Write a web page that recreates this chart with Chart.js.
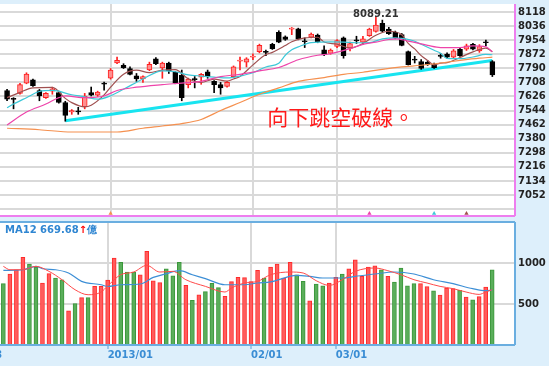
<!DOCTYPE html>
<html>
<head>
<meta charset="utf-8">
<script src="https://cdn.jsdelivr.net/npm/chart.js@4.4.0/dist/chart.umd.min.js"></script>
<style>
  body { margin: 0; width: 549px; height: 366px; overflow: hidden; position: relative; background: #ddeffb; }
  #price { position: absolute; left: -39px; top: 0; }
  #volume { position: absolute; left: -39px; top: 221px; }
  #maLabel { position: absolute; left: 5px; top: 224px; font: bold 10px "DejaVu Sans"; line-height: 12px; color: #2f86d2; white-space: nowrap; }
  #maLabel .up { color: #ff0000; }
</style>
</head>
<body>
<canvas id="price" width="588" height="220"></canvas>
<canvas id="volume" width="588" height="145"></canvas>
<div id="maLabel"></div>
<script>
// daily candles, oldest first (index 0 = first visible bar)
const opens = [7661,7615,7644,7704,7723,7661,7619,7657,7648,7591,
  7536,7542,7567,7648,7633,7703,7732,7822,7808,7789,
  7746,7729,7780,7845,7793,7821,7766,7751,7695,7729,
  7738,7770,7714,7695,7685,7742,7832,7826,7855,7887,
  7888,7930,8000,7973,8018,8020,7950,7971,7983,7898,
  7877,7917,7967,7907,7956,7943,7980,8005,8052,8018,
  8000,7986,7887,7843,7830,7826,7813,7866,7873,7855,
  7901,7901,7930,7892,7945,7830];
const highs = [7668,7619,7702,7764,7728,7667,7649,7680,7657,7598,
  7550,7563,7644,7681,7657,7710,7789,7855,7817,7798,
  7760,7747,7826,7852,7826,7826,7770,7780,7733,7742,
  7760,7780,7719,7708,7714,7804,7855,7852,7874,7931,
  7896,7936,8009,7979,8028,8024,7967,7996,7990,7921,
  7903,7958,7973,7943,7977,7977,8024,8089.21,8071,8029,
  8007,7993,7891,7860,7841,7835,7821,7877,7880,7900,
  7908,7931,7936,7928,7954,7835];
const lows = [7601,7554,7640,7700,7685,7601,7615,7639,7587,7482,
  7522,7522,7554,7629,7626,7663,7727,7817,7789,7751,
  7714,7708,7776,7812,7732,7760,7700,7601,7676,7676,
  7697,7732,7648,7639,7680,7736,7780,7798,7841,7880,
  7864,7900,7939,7953,7986,7956,7911,7967,7939,7864,
  7872,7911,7849,7892,7935,7930,7976,8001,8001,7987,
  7962,7921,7809,7821,7784,7807,7790,7849,7849,7849,
  7860,7894,7897,7883,7921,7742];
const closes = [7610,7609,7695,7757,7689,7629,7644,7670,7591,7516,
  7544,7536,7629,7633,7652,7698,7780,7836,7794,7755,
  7729,7742,7813,7817,7821,7776,7704,7619,7727,7724,
  7755,7742,7695,7676,7708,7798,7838,7845,7860,7924,
  7883,7905,7943,7958,8024,7962,7945,7990,7945,7870,
  7896,7952,7864,7934,7950,7962,8018,8042,8007,7992,
  7967,7924,7811,7838,7789,7813,7794,7860,7855,7892,
  7864,7921,7901,7917,7939,7751];

// volume (億) and whether the day closed up (1 = red) or down (0 = green)
const volumes = [748,866,918,1068,988,951,756,870,817,796,
  418,504,577,577,715,715,792,1061,1008,890,
  890,857,1141,784,760,930,845,1008,727,544,
  613,650,751,699,593,772,825,821,772,910,
  817,951,988,817,1007,857,776,540,744,723,
  756,825,866,930,1040,837,951,967,918,837,
  768,939,723,748,748,711,662,610,695,687,
  666,585,552,589,707,918];
const volUp = [0,1,1,1,0,0,1,1,0,0,
  1,0,1,0,1,1,1,1,0,0,
  0,1,1,1,1,0,0,0,1,0,
  1,0,0,0,1,1,1,1,1,1,
  0,1,1,1,1,0,0,1,0,0,
  1,1,0,1,1,1,1,1,0,1,
  0,0,0,0,1,1,0,1,1,1,
  0,1,0,1,1,0];

// moving averages as [bar index, value]
const ma5Pts = [[0,7619],[2,7650],[4,7676],[7,7679],[9,7615],[10,7590],[12,7565],[13,7575],[15,7635],[16,7680],
  [18,7755],[20,7779],[22,7765],[24,7780],[26,7783],[28,7729],[30,7708],[32,7727],[34,7716],[35,7728],
  [36,7743],[38,7810],[40,7870],[41,7883],[43,7923],[44,7945],[46,7967],[48,7971],[49,7943],[51,7931],
  [53,7908],[55,7935],[57,7983],[59,8006],[61,7986],[62,7935],[63,7903],[64,7864],[65,7836],[66,7810],
  [67,7820],[68,7823],[70,7853],[72,7886],[74,7908],[75,7887]];
const ma10Pts = [[0,7560],[1,7582],[3,7619],[5,7655],[7,7661],[10,7636],[12,7624],[14,7610],[16,7630],[18,7668],
  [21,7728],[24,7775],[26,7770],[28,7752],[30,7745],[32,7739],[34,7734],[36,7745],[38,7764],[40,7798],
  [42,7820],[43,7866],[44,7898],[45,7915],[47,7940],[50,7944],[52,7943],[54,7939],[56,7940],[58,7962],
  [60,7968],[61,7964],[63,7948],[64,7930],[66,7895],[67,7878],[68,7848],[70,7846],[72,7856],[74,7871],[75,7869]];
const ma20Pts = [[0,7460],[3,7535],[6,7582],[8,7619],[9,7629],[12,7619],[15,7629],[17,7661],[20,7680],[24,7695],
  [27,7704],[30,7714],[33,7742],[36,7755],[39,7775],[42,7795],[45,7840],[48,7866],[50,7875],[53,7905],
  [55,7930],[57,7943],[59,7958],[60,7962],[62,7949],[65,7924],[67,7911],[70,7911],[72,7921],[74,7915],[75,7887]];
const ma60Pts = [[0,7441],[5,7432],[10,7419],[17,7419],[21,7441],[24,7454],[27,7468],[30,7492],[33,7544],[36,7591],
  [39,7639],[42,7676],[45,7714],[49,7736],[52,7755],[55,7767],[58,7784],[61,7798],[64,7808],[67,7821],
  [70,7836],[73,7849],[75,7855]];
const trendPts = [[9,7485],[75,7836]];
const volMa5Pts = [[0,959],[1,918],[3,918],[5,959],[7,898],[9,796],[11,674],[13,613],[15,646],[16,720],
  [18,857],[20,890],[22,971],[24,890],[26,898],[28,796],[31,715],[34,646],[35,695],[37,756],
  [39,776],[41,857],[44,890],[46,878],[48,784],[50,727],[52,796],[54,898],[57,939],[59,906],
  [61,857],[63,796],[65,756],[67,715],[69,687],[71,646],[73,617],[74,646],[75,674]];
const volMa12Pts = [[0,910],[3,918],[5,959],[6,930],[8,918],[10,878],[12,776],[15,735],[16,715],[18,735],
  [21,744],[23,824],[25,870],[27,906],[29,857],[31,809],[34,735],[37,735],[39,756],[41,770],
  [45,849],[47,837],[49,817],[52,817],[54,837],[57,866],[60,890],[63,866],[66,796],[69,748],
  [72,687],[74,662],[75,669.68]];

// little signal arrows at the foot of the price panel
const markIdx = [16, 56, 66, 71];
const markColors = ['#f5904f', '#ee44aa', '#3cc8d8', '#a05050'];
const markLevel = 6944;

// axis ticks
const priceTicks = [6970, 7052, 7134, 7216, 7298, 7380, 7462, 7544, 7626, 7708, 7790, 7872, 7954, 8036, 8118];
const volTicks = [500, 1000];
const tickIdx = [-5, 16, 38, 51];
const tickText = ['12/03', '2013/01', '02/01', '03/01'];

const noteText = '向下跳空破線。';
const noteIdx = 40.2, notePrice = 7505;

const PAD_L = 6, PAD_R = 3;
const n = opens.length;
const cats = Array.from({length: PAD_L + n + PAD_R}, (_, j) => j - PAD_L);
function pad(arr) { return Array(PAD_L).fill(null).concat(arr, Array(PAD_R).fill(null)); }
function fromPts(pts) {
  const out = Array(n).fill(null);
  pts.forEach(([i, v]) => { out[i] = v; });
  return pad(out);
}

const RED = '#ff1f1f', RED_FILL = '#ff8f8f', BLACK = '#000000';
const isUp = opens.map((o, i) => closes[i] >= o);

function panel(borderColor, withTop) {
  return {
    id: 'panel',
    beforeDraw(chart) {
      const a = chart.chartArea, ctx = chart.ctx;
      ctx.save();
      ctx.fillStyle = '#ffffff';
      ctx.fillRect(a.left, a.top, a.right - a.left, a.bottom - a.top);
      ctx.restore();
    },
    afterDraw(chart) {
      const a = chart.chartArea, ctx = chart.ctx;
      ctx.save();
      ctx.strokeStyle = borderColor;
      ctx.lineWidth = 2;
      ctx.beginPath();
      if (withTop) { ctx.moveTo(a.left, a.top); ctx.lineTo(a.right, a.top); }
      ctx.moveTo(a.right, a.top); ctx.lineTo(a.right, a.bottom);
      ctx.moveTo(a.left, a.bottom); ctx.lineTo(a.right, a.bottom);
      ctx.stroke();
      ctx.restore();
    }
  };
}

const notes = {
  id: 'notes',
  afterDatasetsDraw(chart) {
    const {ctx, scales: {x, y}} = chart;
    const top = Math.max(...highs);
    const hi = highs.indexOf(top);
    ctx.save();
    ctx.font = 'bold 10px "DejaVu Sans"';
    ctx.fillStyle = '#333333';
    ctx.textAlign = 'center';
    ctx.textBaseline = 'alphabetic';
    ctx.fillText(top.toFixed(2), x.getPixelForValue(hi + PAD_L), y.getPixelForValue(top));
    ctx.font = '21px "Noto Sans CJK TC"';
    ctx.fillStyle = '#ff1a1a';
    ctx.textAlign = 'left';
    ctx.textBaseline = 'middle';
    ctx.fillText(noteText, x.getPixelForValue(noteIdx + PAD_L), y.getPixelForValue(notePrice));
    ctx.restore();
  }
};

const axisFont = {family: 'DejaVu Sans', size: 10, weight: 'bold'};
const GRID = '#d9d9d9';

function monthAxis(showLabels) {
  return {
    offset: true,
    afterBuildTicks(s) { s.ticks = s.ticks.filter(t => tickIdx.includes(cats[t.value])); },
    afterFit(s) { s.height = showLabels ? 21 : 1; s.paddingLeft = 0; s.paddingRight = 0; },
    grid: {offset: false, color: GRID, lineWidth: 2, drawTicks: showLabels, tickLength: 4, tickColor: '#5a9fd6', tickWidth: 1},
    border: {display: false},
    ticks: {
      display: showLabels, autoSkip: false, maxRotation: 0, align: 'start', padding: 0,
      color: '#3a8dd4', font: axisFont,
      callback: (v) => tickText[tickIdx.indexOf(cats[v])] || ''
    }
  };
}

function valueAxis(min, max, list, showIf) {
  return {
    position: 'right', min: min, max: max,
    afterBuildTicks(s) { s.ticks = list.map(v => ({value: v})); },
    afterFit(s) { s.width = 34; s.paddingTop = 0; s.paddingBottom = 0; },
    grid: {color: GRID, lineWidth: 2, drawTicks: false},
    border: {display: false},
    ticks: {autoSkip: false, padding: 3, color: '#222222', font: axisFont,
      callback: (v) => showIf(v) ? String(v) : ''}
  };
}

function line(pts, color, width) {
  return {type: 'line', data: fromPts(pts), borderColor: color, borderWidth: width, pointRadius: 0,
    spanGaps: true, cubicInterpolationMode: 'monotone', order: 1};
}

const common = {responsive: false, animation: false, events: [],
  plugins: {legend: {display: false}, tooltip: {enabled: false}}};

new Chart(document.getElementById('price'), {
  type: 'bar',
  data: {
    labels: cats,
    datasets: [
      {type: 'line', data: fromPts(trendPts), borderColor: '#18e4f0', borderWidth: 3, pointRadius: 0, spanGaps: true, order: 6},
      {data: pad(lows.map((l, i) => [l, highs[i]])), backgroundColor: pad(isUp.map(u => u ? RED : BLACK)),
        barThickness: 1, grouped: false, order: 3},
      {data: pad(opens.map((o, i) => [o, closes[i]])), backgroundColor: pad(isUp.map(u => u ? RED_FILL : BLACK)),
        borderColor: pad(isUp.map(u => u ? RED : BLACK)), borderWidth: 1, borderSkipped: false,
        barThickness: 5, minBarLength: 1, grouped: false, order: 2},
      line(ma60Pts, '#f5904f', 1.2),
      line(ma20Pts, '#ee44aa', 1.2),
      line(ma10Pts, '#3cc8d8', 1.2),
      line(ma5Pts, '#a05050', 1.2),
      {type: 'line', data: fromPts(markIdx.map(i => [i, markLevel])), showLine: false,
        pointStyle: 'triangle', pointRadius: 2.5, pointBorderWidth: 0,
        pointBackgroundColor: pad(Array.from({length: n}, (_, i) => markColors[markIdx.indexOf(i)] || null)), order: 0}
    ]
  },
  options: {
    ...common,
    scales: {
      x: monthAxis(false),
      y: valueAxis(6929.6, 8164.8, priceTicks, v => v >= 7000)
    }
  },
  plugins: [panel('#ee7eee', false), notes]
});

new Chart(document.getElementById('volume'), {
  type: 'bar',
  data: {
    labels: cats,
    datasets: [
      {data: pad(volumes), backgroundColor: pad(volUp.map(u => u ? '#ff5c5c' : '#5aae5a')),
        borderColor: pad(volUp.map(u => u ? '#ff2a2a' : '#3a963a')), borderWidth: 1,
        barThickness: 4, grouped: false, order: 2},
      line(volMa5Pts, '#ff4a4a', 1),
      line(volMa12Pts, '#3d8fd6', 1.2)
    ]
  },
  options: {
    ...common,
    layout: {padding: {top: 1}},
    scales: {
      x: monthAxis(true),
      y: valueAxis(0, 1500, volTicks, () => true)
    }
  },
  plugins: [panel('#6aaee0', true)]
});

const lastMa12 = volMa12Pts[volMa12Pts.length - 1][1];
document.getElementById('maLabel').innerHTML =
  'MA12 ' + lastMa12.toFixed(2) + '<span class="up">↑</span>億';
</script>
</body>
</html>
